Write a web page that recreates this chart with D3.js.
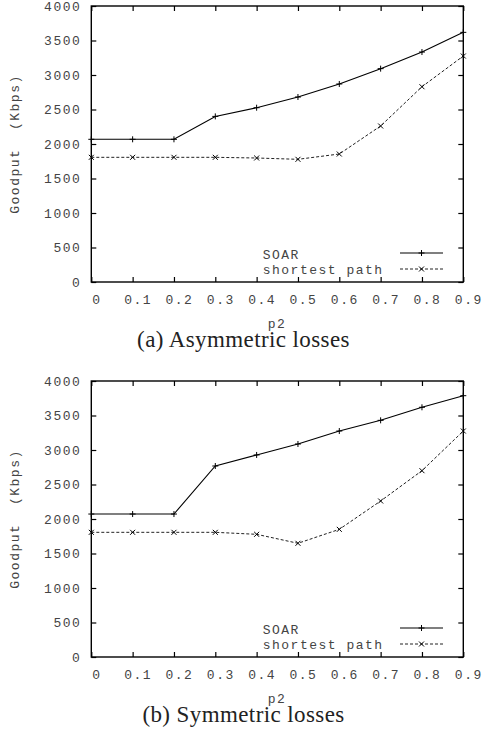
<!DOCTYPE html>
<html lang="en">
<head>
    <meta charset="UTF-8">
    <script src="https://cdnjs.cloudflare.com/ajax/libs/d3/7.8.5/d3.min.js"></script>
    <title>SOAR goodput</title>
    <style>
        body { margin: 0; background: white; }
        .tick text, .lbl {
            font-family: 'Liberation Mono', 'DejaVu Sans Mono', monospace;
            font-size: 13px;
            letter-spacing: 1.5px;
            fill: #444;
        }
        .caption {
            font-family: 'Liberation Serif', 'Times New Roman', serif;
            font-size: 23px;
            letter-spacing: 0.4px;
            fill: #222;
        }
    </style>
</head>
<body>
    <div id="chart"></div>

    <script>
        // Data
        const pValues = [0, 0.1, 0.2, 0.3, 0.4, 0.5, 0.6, 0.7, 0.8, 0.9];
        const xTickLabels = ["0", "0.1", "0.2", "0.3", "0.4", "0.5", "0.6", "0.7", "0.8", "0.9"];
        const yTicks = [0, 500, 1000, 1500, 2000, 2500, 3000, 3500, 4000];

        const asymSoar = [2068, 2068, 2068, 2400, 2526, 2681, 2870, 3092, 3333, 3618];
        const asymShortest = [1807, 1807, 1807, 1807, 1797, 1778, 1855, 2261, 2830, 3275];
        const symSoar = [2072, 2072, 2072, 2768, 2928, 3087, 3275, 3430, 3619, 3787];
        const symShortest = [1807, 1807, 1807, 1807, 1778, 1648, 1850, 2261, 2700, 3275];

        const seriesNames = ["SOAR", "shortest path"];
        const captions = ["(a) Asymmetric losses", "(b) Symmetric losses"];

        const width = 482, height = 731;
        const svg = d3.select("#chart").append("svg")
            .attr("width", width)
            .attr("height", height);

        const plotLeft = 91.3, plotRight = 463.3, plotH = 276;

        const x = d3.scaleLinear().domain([0, 0.9]).range([plotLeft, plotRight]);

        function plusPath(cx, cy, r) {
            return `M${cx - r},${cy}H${cx + r}M${cx},${cy - r}V${cy + r}`;
        }
        function crossPath(cx, cy, r) {
            return `M${cx - r},${cy - r}L${cx + r},${cy + r}M${cx - r},${cy + r}L${cx + r},${cy - r}`;
        }

        function drawPanel(top, soar, shortest, caption) {
            const g = svg.append("g");
            const y = d3.scaleLinear().domain([0, 4000]).range([top + plotH, top]);
            const bottom = top + plotH;

            // axes with inward ticks
            const xAxis = g.append("g")
                .attr("transform", `translate(0,${bottom})`)
                .call(d3.axisBottom(x).tickValues(pValues)
                    .tickFormat((d, i) => xTickLabels[i])
                    .tickSizeInner(-5).tickSizeOuter(0).tickPadding(13));
            xAxis.selectAll("text").attr("dx", 5);

            g.append("g")
                .attr("transform", `translate(${plotLeft},0)`)
                .call(d3.axisLeft(y).tickValues(yTicks)
                    .tickFormat(d3.format("d"))
                    .tickSizeInner(-5).tickSizeOuter(0).tickPadding(10));

            // mirrored ticks
            g.append("g")
                .attr("transform", `translate(0,${top})`)
                .call(d3.axisTop(x).tickValues(pValues).tickFormat("")
                    .tickSizeInner(-5).tickSizeOuter(0));
            g.append("g")
                .attr("transform", `translate(${plotRight},0)`)
                .call(d3.axisRight(y).tickValues(yTicks).tickFormat("")
                    .tickSizeInner(-5).tickSizeOuter(0));

            g.selectAll(".domain").remove();
            g.selectAll(".tick line").attr("stroke", "#000").attr("stroke-width", 1.2);
            g.selectAll(".tick text").attr("font-family", null).attr("font-size", null);

            // frame
            g.append("rect")
                .attr("x", plotLeft).attr("y", top)
                .attr("width", plotRight - plotLeft).attr("height", plotH)
                .attr("fill", "none").attr("stroke", "#000").attr("stroke-width", 1.4);

            const line = d3.line().x((d, i) => x(pValues[i])).y(d => y(d));

            // SOAR
            g.append("path").datum(soar)
                .attr("d", line)
                .attr("fill", "none").attr("stroke", "#000").attr("stroke-width", 1.1);
            g.append("path")
                .attr("d", soar.map((d, i) => plusPath(x(pValues[i]), y(d), 3)).join(""))
                .attr("stroke", "#000").attr("stroke-width", 1);

            // shortest path
            g.append("path").datum(shortest)
                .attr("d", line)
                .attr("fill", "none").attr("stroke", "#222").attr("stroke-width", 1)
                .attr("stroke-dasharray", "3,2");
            g.append("path")
                .attr("d", shortest.map((d, i) => crossPath(x(pValues[i]), y(d), 2.5)).join(""))
                .attr("stroke", "#000").attr("stroke-width", 1);

            // legend
            const legX = 262.7, lineX0 = 400, lineX1 = 443, markX = 421.5;
            g.append("text").attr("class", "lbl")
                .attr("x", legX).attr("y", bottom - 23).text(seriesNames[0]);
            g.append("text").attr("class", "lbl")
                .attr("x", legX).attr("y", bottom - 8).text(seriesNames[1]);
            g.append("line")
                .attr("x1", lineX0).attr("x2", lineX1)
                .attr("y1", bottom - 29).attr("y2", bottom - 29)
                .attr("stroke", "#000").attr("stroke-width", 1.1);
            g.append("path").attr("d", plusPath(markX, bottom - 29, 3))
                .attr("stroke", "#000");
            g.append("line")
                .attr("x1", lineX0).attr("x2", lineX1)
                .attr("y1", bottom - 13).attr("y2", bottom - 13)
                .attr("stroke", "#222").attr("stroke-width", 1)
                .attr("stroke-dasharray", "3,2");
            g.append("path").attr("d", crossPath(markX, bottom - 13, 2.5))
                .attr("stroke", "#000");

            // axis titles (p2 sits just above the caption, as in the original)
            g.append("text").attr("class", "lbl")
                .attr("x", 277).attr("y", bottom + 46)
                .attr("text-anchor", "middle").text("p2");
            g.append("text").attr("class", "lbl")
                .attr("transform", `translate(19,${top + plotH / 2}) rotate(-90)`)
                .attr("text-anchor", "middle")
                .style("white-space", "pre")
                .text("Goodput  (Kbps)");

            g.append("text").attr("class", "caption")
                .attr("x", 243.5).attr("y", bottom + 65)
                .attr("text-anchor", "middle").text(caption);
        }

        drawPanel(6, asymSoar, asymShortest, captions[0]);
        drawPanel(381, symSoar, symShortest, captions[1]);
    </script>
</body>
</html>
